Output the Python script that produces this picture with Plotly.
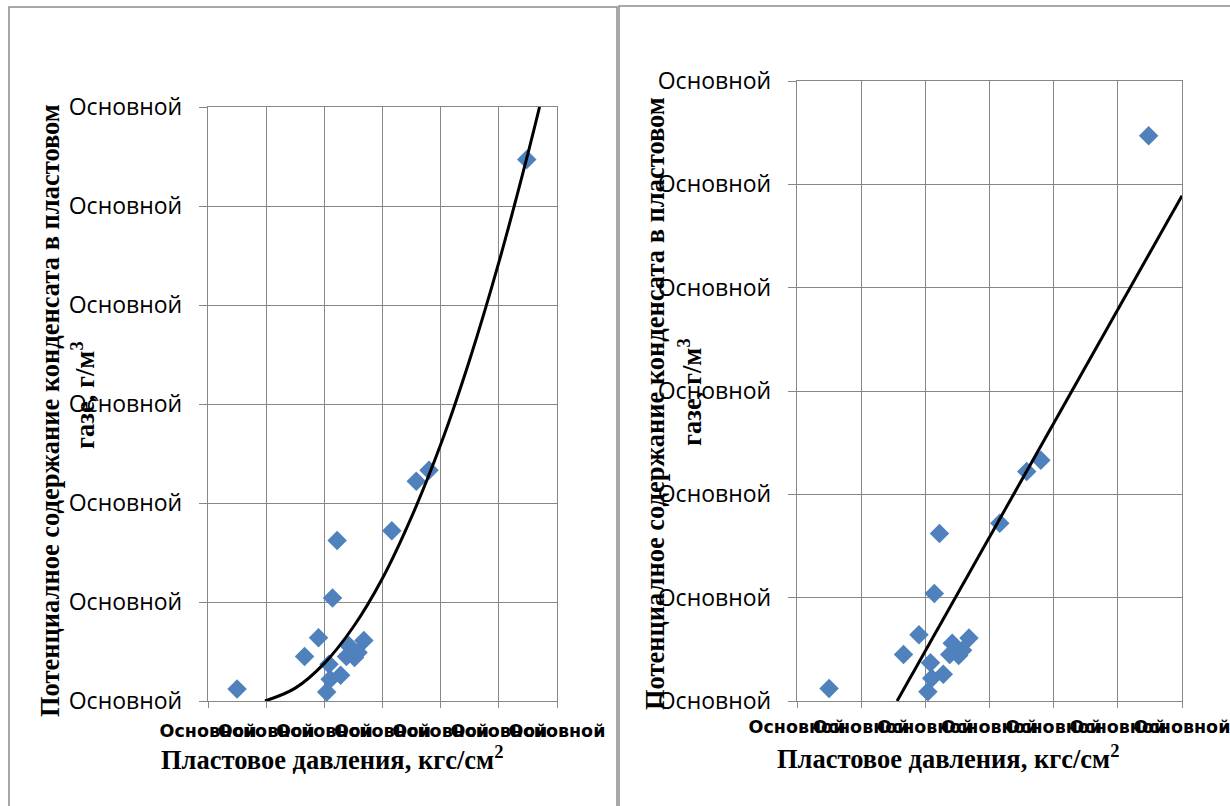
import plotly.graph_objects as go

# ---- data ----
pressure = [25, 83, 95, 107, 104, 105, 114, 102, 121, 134, 119, 126, 129, 111, 158, 179, 190, 274]
condensate = [12, 45, 64, 104, 37, 22, 26, 9, 56, 61, 45, 44, 49, 162, 172, 222, 233, 547]

# polynomial trend (left panel)
trend_poly_x = [49, 75, 100, 125, 150, 175, 200, 225, 250, 275, 285]
trend_poly_y = [0, 13, 38, 75, 124, 186, 259, 345, 443, 553, 600]

# linear trend (right panel), end points
trend_lin_x = [78, 300]
trend_lin_y = [0, 489]

x_tickvals = [0, 50, 100, 150, 200, 250, 300]
y_tickvals = [0, 100, 200, 300, 400, 500, 600]
tick_label = "Основной"

x_title = "Пластовое давления, кгс/см<sup>2</sup>"
y_title_line1 = "Потенциалное содержание конденсата в пластовом"
y_title_line2 = "газе, г/м<sup>3</sup>"

W, H = 1230, 806
BLUE = "#4F81BD"
GRID = "#878787"


def px(v):
    return v / W


def py(v):
    return 1 - v / H


fig = go.Figure()

# left panel
fig.add_trace(go.Scatter(x=pressure, y=condensate, mode="markers",
                         marker=dict(symbol="diamond", size=15, color=BLUE, line=dict(width=0)),
                         xaxis="x", yaxis="y", showlegend=False))
fig.add_trace(go.Scatter(x=trend_poly_x, y=trend_poly_y, mode="lines",
                         line=dict(color="black", width=3, shape="spline"),
                         xaxis="x", yaxis="y", showlegend=False))
# right panel
fig.add_trace(go.Scatter(x=pressure, y=condensate, mode="markers",
                         marker=dict(symbol="diamond", size=15, color=BLUE, line=dict(width=0)),
                         xaxis="x2", yaxis="y2", showlegend=False))
fig.add_trace(go.Scatter(x=trend_lin_x, y=trend_lin_y, mode="lines",
                         line=dict(color="black", width=3),
                         xaxis="x2", yaxis="y2", showlegend=False))

common_x = dict(range=[0, 300], tickvals=x_tickvals, ticktext=[tick_label] * len(x_tickvals),
                showgrid=True, gridcolor=GRID, gridwidth=1.3, showline=True, linecolor=GRID,
                linewidth=1.3, mirror=True, ticks="outside", ticklen=6, tickcolor=GRID, tickwidth=1.3,
                zeroline=False, tickangle=0, automargin=False, ticklabeloverflow="allow",
                tickfont=dict(family="DejaVu Sans", size=17.5, color="black", weight="bold"))
common_y = dict(range=[0, 600], tickvals=y_tickvals, ticktext=[tick_label] * len(y_tickvals),
                showgrid=True, gridcolor=GRID, gridwidth=1.3, showline=True, linecolor=GRID,
                linewidth=1.3, mirror=True, ticks="outside", ticklen=8, tickcolor=GRID, tickwidth=1.3,
                zeroline=False, ticklabelstandoff=12, automargin=False, ticklabeloverflow="allow",
                tickfont=dict(family="Open Sans", size=23, color="black"))

fig.update_layout(
    template="none",
    width=W, height=H,
    margin=dict(l=0, r=0, t=0, b=0, autoexpand=False),
    paper_bgcolor="white", plot_bgcolor="white",
    xaxis=dict(domain=[px(208), px(557)], anchor="y", ticklabelstandoff=8, **common_x),
    yaxis=dict(domain=[py(701), py(107)], anchor="x", **common_y),
    xaxis2=dict(domain=[px(797), px(1182)], anchor="y2", ticklabelstandoff=4, **common_x),
    yaxis2=dict(domain=[py(701), py(81)], anchor="x2", **common_y),
)

title_font = dict(family="Liberation Serif", size=26.5, color="black", weight="bold")


def title(text, x, y, angle=0):
    fig.add_annotation(x=px(x), y=py(y), xref="paper", yref="paper", text=text, textangle=angle,
                       showarrow=False, font=title_font, xanchor="center", yanchor="middle")


title(y_title_line1, 50, 411, -90)
title(y_title_line2, 83, 395, -90)
title(y_title_line1, 655, 404, -90)
title(y_title_line2, 690, 392, -90)
title(x_title, 332, 758)
title(x_title, 948, 757)

# panel frames
fig.add_shape(type="rect", xref="paper", yref="paper", x0=px(9), x1=px(617), y0=py(830), y1=py(7),
              line=dict(color="#8c8c8c", width=1.5))
fig.add_shape(type="rect", xref="paper", yref="paper", x0=px(619), x1=px(1240), y0=py(830), y1=py(6),
              line=dict(color="#8c8c8c", width=1.5))

fig.write_html("out.html", config={"displayModeBar": False},
               post_script="document.body.style.margin='0';document.body.style.overflow='hidden';")
